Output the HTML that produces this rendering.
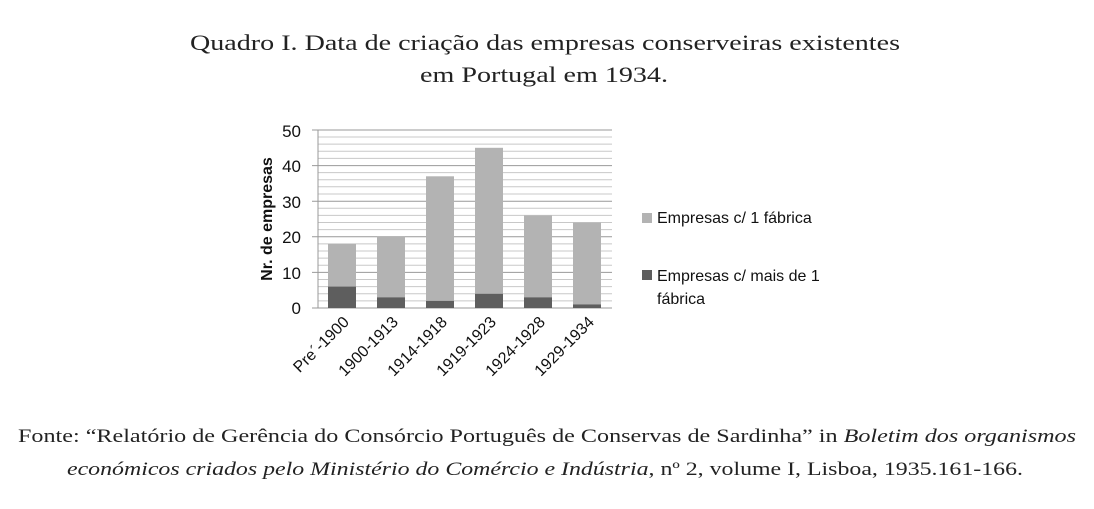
<!DOCTYPE html>
<html><head><meta charset="utf-8"><style>html,body{margin:0;padding:0;background:#fff}</style></head>
<body>
<svg width="1094" height="504" viewBox="0 0 1094 504" xmlns="http://www.w3.org/2000/svg">
<g font-family="Liberation Serif, serif" fill="#222" font-size="22">
<text x="190" y="50" textLength="710" lengthAdjust="spacingAndGlyphs">Quadro I. Data de criação das empresas conserveiras existentes</text>
<text x="420" y="82" textLength="248" lengthAdjust="spacingAndGlyphs">em Portugal em 1934.</text>
</g>
<g stroke-width="1">
<g stroke="#c8c8c8">
<line x1="318" x2="612" y1="300.9" y2="300.9"/><line x1="318" x2="612" y1="293.8" y2="293.8"/><line x1="318" x2="612" y1="286.6" y2="286.6"/><line x1="318" x2="612" y1="279.5" y2="279.5"/>
<line x1="318" x2="612" y1="265.3" y2="265.3"/><line x1="318" x2="612" y1="258.1" y2="258.1"/><line x1="318" x2="612" y1="251" y2="251"/><line x1="318" x2="612" y1="243.9" y2="243.9"/>
<line x1="318" x2="612" y1="229.6" y2="229.6"/><line x1="318" x2="612" y1="222.5" y2="222.5"/><line x1="318" x2="612" y1="215.4" y2="215.4"/><line x1="318" x2="612" y1="208.2" y2="208.2"/>
<line x1="318" x2="612" y1="194" y2="194"/><line x1="318" x2="612" y1="186.8" y2="186.8"/><line x1="318" x2="612" y1="179.7" y2="179.7"/><line x1="318" x2="612" y1="172.6" y2="172.6"/>
<line x1="318" x2="612" y1="158.4" y2="158.4"/><line x1="318" x2="612" y1="151.2" y2="151.2"/><line x1="318" x2="612" y1="144.1" y2="144.1"/><line x1="318" x2="612" y1="137" y2="137"/>
</g>
<g stroke="#999">
<line x1="312" x2="612" y1="272.4" y2="272.4"/><line x1="312" x2="612" y1="236.8" y2="236.8"/><line x1="312" x2="612" y1="201.2" y2="201.2"/><line x1="312" x2="612" y1="165.6" y2="165.6"/><line x1="312" x2="612" y1="130" y2="130"/>
<line x1="318" x2="318" y1="130" y2="308"/><line x1="312" x2="612" y1="308" y2="308"/>
</g>
</g>
<g fill="#b3b3b3">
<rect x="328" y="243.9" width="28" height="42.7"/><rect x="377" y="236.8" width="28" height="60.5"/><rect x="426" y="176.3" width="28" height="124.6"/><rect x="475" y="147.8" width="28" height="146"/><rect x="524" y="215.4" width="28" height="81.9"/><rect x="573" y="222.5" width="28" height="81.9"/>
</g>
<g fill="#5e5e5e">
<rect x="328" y="286.6" width="28" height="21.4"/><rect x="377" y="297.3" width="28" height="10.7"/><rect x="426" y="300.9" width="28" height="7.1"/><rect x="475" y="293.8" width="28" height="14.2"/><rect x="524" y="297.3" width="28" height="10.7"/><rect x="573" y="304.4" width="28" height="3.6"/>
</g>
<g font-family="Liberation Sans, sans-serif" font-size="17" fill="#111" text-anchor="end">
<text x="301" y="314">0</text><text x="301" y="279">10</text><text x="301" y="243">20</text><text x="301" y="208">30</text><text x="301" y="172">40</text><text x="301" y="137">50</text>
</g>
<g font-family="Liberation Sans, sans-serif" font-size="16" fill="#111" text-anchor="end">
<text transform="translate(350,323) rotate(-45)">Pre´-1900</text>
<text transform="translate(399,323) rotate(-45)">1900-1913</text>
<text transform="translate(448,323) rotate(-45)">1914-1918</text>
<text transform="translate(497,323) rotate(-45)">1919-1923</text>
<text transform="translate(546,323) rotate(-45)">1924-1928</text>
<text transform="translate(595,323) rotate(-45)">1929-1934</text>
</g>
<text transform="translate(272,219) rotate(-90)" text-anchor="middle" font-family="Liberation Sans, sans-serif" font-size="16" font-weight="bold" fill="#111">Nr. de empresas</text>
<rect x="642" y="213" width="10" height="10" fill="#b3b3b3"/>
<rect x="642" y="270" width="10" height="10" fill="#5e5e5e"/>
<g font-family="Liberation Sans, sans-serif" font-size="16" fill="#111">
<text x="657" y="223">Empresas c/ 1 fábrica</text>
<text x="657" y="281">Empresas c/ mais de 1</text>
<text x="657" y="304">fábrica</text>
</g>
<g font-family="Liberation Serif, serif" font-size="19" fill="#222">
<text x="18" y="442" textLength="1058" lengthAdjust="spacingAndGlyphs">Fonte: “Relatório de Gerência do Consórcio Português de Conservas de Sardinha” in <tspan font-style="italic">Boletim dos organismos</tspan></text>
<text x="67" y="475" textLength="956" lengthAdjust="spacingAndGlyphs"><tspan font-style="italic">económicos criados pelo Ministério do Comércio e Indústria</tspan>, nº 2, volume I, Lisboa, 1935.161-166.</text>
</g>
</svg>
</body></html>
